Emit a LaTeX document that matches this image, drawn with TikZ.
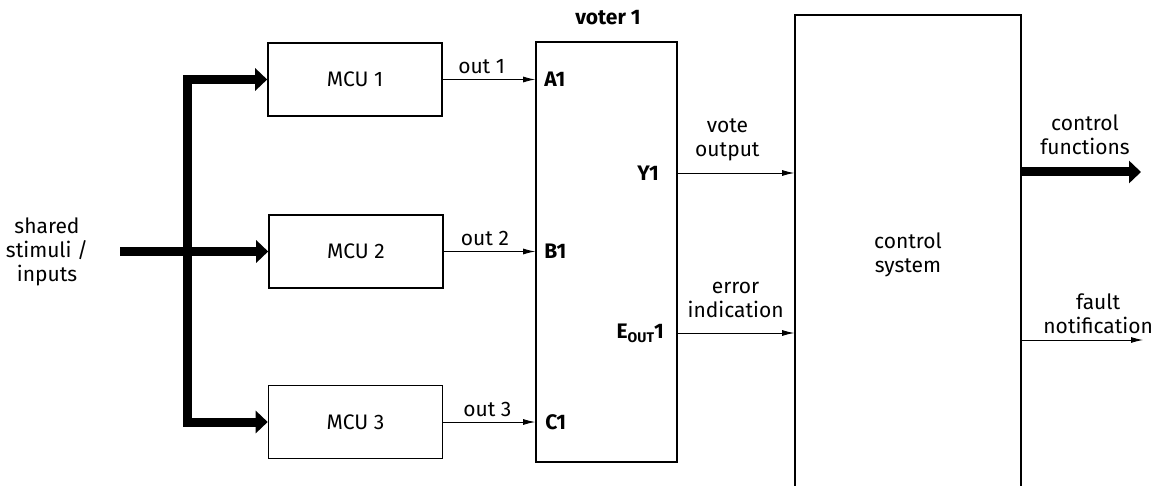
\documentclass[tikz,border=0pt]{standalone}
\usepackage{fontspec}
\setmainfont{Fira Sans}
\usetikzlibrary{arrows.meta,positioning}
\begin{document}
\begin{tikzpicture}[x=1pt,y=-1pt,
  every node/.style={font=\fontsize{21}{24}\selectfont, inner sep=0pt, align=center},
  box/.style={draw, line width=1.6pt, minimum width=174pt, minimum height=73pt},
  bus/.style={line width=9pt, -{Triangle[length=12pt,width=22pt]}},
  sig/.style={line width=0.9pt, -{Latex[length=12pt,width=6pt]}},
  pin/.style={font=\bfseries\fontsize{21}{24}\selectfont}
]
\useasboundingbox (0,0) rectangle (1153,486);
% MCU boxes
\node[box] (mcu1) at (355,79.5) {MCU 1};
\node[box] (mcu2) at (356,251.5) {MCU 2};
\node[box] (mcu3) at (355.5,422) {MCU 3};
% voter
\node[draw, line width=1.6pt, minimum width=141pt, minimum height=420pt] (voter) at (606.5,252) {};
\node[pin, anchor=base] (vtitle) at (608,25) {voter 1};
% control system
\node[draw, line width=1.6pt, minimum width=226pt, minimum height=480pt] (ctrl) at (908,255) {control\\system};
% inputs
\node (shared) at (47,252) {shared\\stimuli /\\inputs};
\coordinate (in) at (120,251.5);
\coordinate (split) at (187,251.5);
\draw[bus] (in) -- (mcu2.west);
\draw[bus] (split) |- (mcu1.west);
\draw[bus] (split) |- (mcu3.west);
% MCU outputs to voter
\draw[sig] (mcu1.east) -- (mcu1.east -| voter.west) node[pos=0.42, above=5pt] (o1) {out 1};
\draw[sig] (mcu2.east) -- (mcu2.east -| voter.west) node[pos=0.45, above=5pt] (o2) {out 2};
\draw[sig] (mcu3.east) -- (mcu3.east -| voter.west) node[pos=0.48, above=5pt] (o3) {out 3};
% voter pins
\node[pin, anchor=west] (a1) at ([xshift=9pt]mcu1.east -| voter.west) {A1};
\node[pin, anchor=west] (b1) at ([xshift=9pt]mcu2.east -| voter.west) {B1};
\node[pin, anchor=west] (c1) at ([xshift=10pt]mcu3.east -| voter.west) {C1};
\coordinate (yout) at (677,173);
\coordinate (eout) at (677,333);
\node[pin, anchor=east] (y1) at ([xshift=-18pt]yout) {Y1};
\node[pin, anchor=east] (e1) at ([xshift=-13pt]eout) {E\raisebox{-0.35ex}{\fontsize{14}{14}\selectfont OUT}1};
% voter to control
\draw[sig] (yout) -- (yout -| ctrl.west) node[pos=0.43, above=12pt] (vo) {vote\\output};
\draw[sig] (eout) -- (eout -| ctrl.west) node[pos=0.5, above=15pt] (ei) {error\\indication};
% control outputs
\coordinate (cf) at (1141,172);
\draw[bus] (ctrl.east |- cf) -- (cf) node[pos=0.53, above=13pt] (cft) {control\\functions};
\coordinate (fn) at (1143,340);
\draw[sig] (ctrl.east |- fn) -- (fn) node[pos=0.63, above=6pt] (fnt) {fault\\notification};
\end{tikzpicture}
\end{document}
